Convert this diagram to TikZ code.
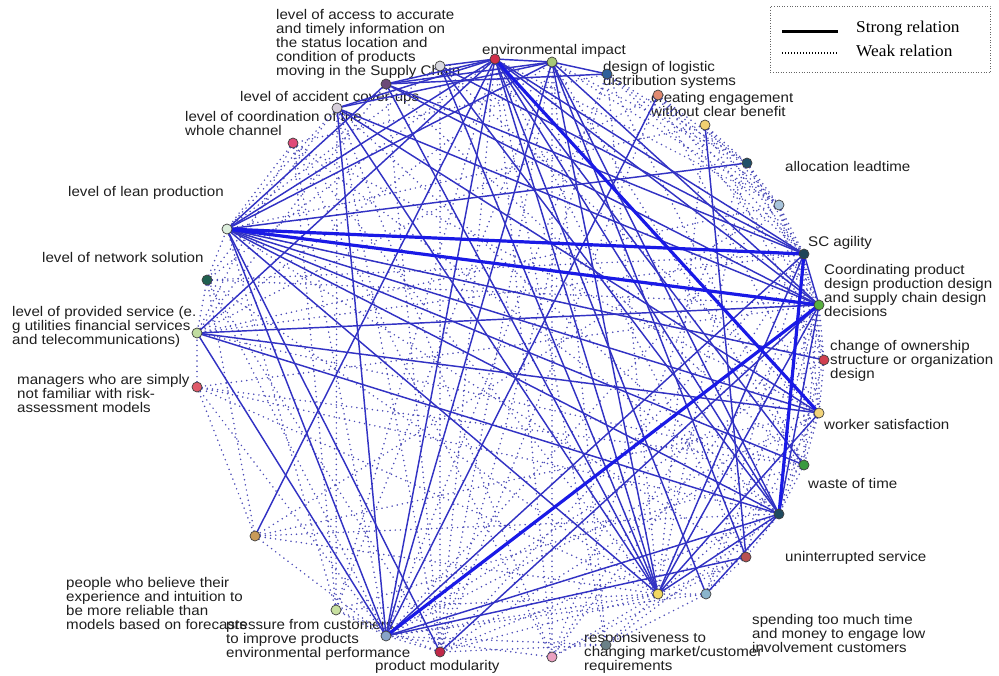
\documentclass[tikz,border=0pt]{standalone}
\usepackage{fontspec}
\newfontfamily\lblfont{Liberation Sans}[FakeStretch=1.08]
\newfontfamily\legfont{Liberation Serif}[FakeStretch=1.05]
\definecolor{edgeblue}{HTML}{3232C4}
\definecolor{strongblue}{HTML}{1A1AE6}
\definecolor{dotblue}{HTML}{4A4AB8}
\tikzset{
  lbl/.style={anchor=north west, inner sep=0pt, align=left,
    font=\lblfont\fontsize{14}{13.8}\selectfont, text=black!88},
  vtx/.style={circle, draw=black!75, line width=0.7pt, minimum size=10pt, inner sep=0pt},
  weak/.style={draw=dotblue, line width=1.7pt, line cap=round, dash pattern=on 0pt off 5.2pt},
  thin/.style={draw=edgeblue, line width=1.45pt},
  strong/.style={draw=strongblue, line width=3.2pt}
}
\begin{document}
\begin{tikzpicture}[x=1pt,y=-1pt]
\useasboundingbox (0,0) rectangle (999,675);
\fill[white] (0,0) rectangle (999,675);

% ---- labels (drawn first, lines pass over them)
\node[lbl] at (276,9.5) {level of access to accurate\\and timely information on\\the status location and\\condition of products\\moving in the Supply Chain};
\node[lbl] at (240,91.5) {level of accident cover-ups};
\node[lbl] at (185,111.5) {level of coordination of the\\whole channel};
\node[lbl] at (482,44.5) {environmental impact};
\node[lbl] at (603,61.5) {design of logistic\\distribution systems};
\node[lbl] at (651,92.5) {creating engagement\\without clear benefit};
\node[lbl] at (785,161.5) {allocation leadtime};
\node[lbl] at (808,236.5) {SC agility};
\node[lbl] at (824,264.5) {Coordinating product\\design production design\\and supply chain design\\decisions};
\node[lbl] at (830,340.5) {change of ownership\\structure or organization\\design};
\node[lbl] at (824,419.5) {worker satisfaction};
\node[lbl] at (808,478.5) {waste of time};
\node[lbl] at (785,551.5) {uninterrupted service};
\node[lbl] at (752,614.5) {spending too much time\\and money to engage low\\involvement customers};
\node[lbl] at (584,632.5) {responsiveness to\\changing market/customer\\requirements};
\node[lbl] at (375,660.5) {product modularity};
\node[lbl] at (226,619.5) {pressure from customers\\to improve products\\environmental performance};
\node[lbl] at (66,577.5) {people who believe their\\experience and intuition to\\be more reliable than\\models based on forecasts};
\node[lbl] at (17,374.5) {managers who are simply\\not familiar with risk-\\assessment models};
\node[lbl] at (12,306.5) {level of provided service (e.\\g utilities financial services\\and telecommunications)};
\node[lbl] at (42,252.5) {level of network solution};
\node[lbl] at (68,186.5) {level of lean production};

% ---- vertex positions
\coordinate (acc) at (386,84);
\coordinate (sup) at (440,66);
\coordinate (cov) at (337,108);
\coordinate (crd) at (293,143);
\coordinate (env) at (495,59);
\coordinate (gr1) at (552,62);
\coordinate (dls) at (607,74);
\coordinate (ceb) at (658,95);
\coordinate (yl1) at (705,125);
\coordinate (alc) at (747,163);
\coordinate (lb1) at (779,205);
\coordinate (sca) at (804,254);
\coordinate (cpd) at (819,305);
\coordinate (chg) at (824,360);
\coordinate (wsa) at (819,413);
\coordinate (wot) at (804,465);
\coordinate (dk2) at (779,514);
\coordinate (uns) at (746,557);
\coordinate (lb2) at (706,594);
\coordinate (grs) at (606,645);
\coordinate (rsp) at (658,594);
\coordinate (pk1) at (552,657);
\coordinate (pmd) at (440,652);
\coordinate (prs) at (386,636);
\coordinate (lg2) at (336,610);
\coordinate (tan) at (255,536);
\coordinate (mgr) at (197,387);
\coordinate (pro) at (197,333);
\coordinate (net) at (207,280);
\coordinate (lea) at (227,229);

% ---- weak relations
\foreach \a/\b in {mgr/pro, mgr/tan, mgr/rsp, mgr/wot, mgr/dk2, tan/prs, tan/rsp, tan/wsa, tan/dk2, tan/net,
  net/lea, net/pro, net/sca, net/cpd, net/rsp, net/env, net/prs,
  crd/lea, crd/rsp, crd/wsa, crd/pro, crd/prs, crd/dk2, crd/lg2,
  cov/lea, cov/net, cov/dk2, cov/pmd, acc/pro, acc/pmd, acc/wot,
  sup/lea, sup/pmd, sup/wsa, env/pk1, env/grs, env/pmd, env/lg2, env/uns, env/lb1,
  gr1/alc, gr1/lb1, gr1/pmd, gr1/grs, gr1/lg2, gr1/wot, gr1/pro, gr1/pk1,
  dls/alc, dls/sca, dls/prs, dls/pmd, dls/rsp, dls/crd, dls/lb1, dls/wot,
  ceb/alc, ceb/lb1, ceb/sca, ceb/cpd, ceb/wsa, ceb/pro, ceb/pmd,
  yl1/alc, yl1/sca, yl1/lb1, yl1/chg, yl1/rsp, yl1/lea,
  alc/lb1, alc/sca, alc/cpd, alc/rsp, alc/pk1,
  lb1/sca, lb1/cpd, lb1/wsa, lb1/pro, lb1/prs, lb1/tan, lb1/chg,
  sca/chg, sca/wsa, sca/wot, sca/pro, sca/pmd, sca/lb2, sca/pk1,
  cpd/chg, cpd/wsa, cpd/wot, cpd/lb2, cpd/uns, cpd/pk1, cpd/mgr,
  chg/wsa, chg/dk2, chg/prs, chg/lea,
  wsa/wot, wsa/dk2, wsa/prs, wsa/lb2, wsa/pmd,
  wot/dk2, wot/rsp, wot/lg2, wot/pro,
  dk2/uns, dk2/grs, dk2/pmd, uns/lb2, uns/rsp, uns/pk1, uns/lea,
  lb2/rsp, lb2/grs, lb2/prs, grs/prs, grs/pmd, grs/rsp,
  rsp/pk1, rsp/pmd, rsp/prs, rsp/lg2, pk1/prs, pk1/cov, pk1/crd,
  pmd/prs, pmd/lg2, pmd/net, prs/lg2, prs/mgr, lg2/lea, lg2/cov}
  \draw[weak] (\a) -- (\b);

% ---- thin solid relations
\foreach \a/\b in {env/lea, env/pro, env/tan, env/prs, env/rsp, env/dk2, env/wot, env/sca, env/cpd,
  env/acc, env/sup, env/gr1, env/cov, env/lb2,
  gr1/cov, gr1/acc, gr1/dls, gr1/rsp, gr1/dk2, gr1/cpd, gr1/prs, gr1/lea, gr1/uns,
  acc/cpd, acc/sca, acc/rsp, acc/dls, acc/lea, sup/sca, sup/rsp, sup/dk2,
  cov/cpd, cov/wsa, cov/rsp, cov/prs,
  lea/alc, lea/wsa, lea/wot, lea/dk2, lea/rsp, lea/prs, lea/pmd, lea/chg,
  pro/cpd, pro/wsa, pro/prs, pro/dk2,
  ceb/prs, yl1/uns, prs/uns,
  sca/prs, sca/rsp, sca/cpd, cpd/dk2, cpd/rsp, cpd/pmd,
  dk2/rsp, dk2/prs, dk2/lb2, rsp/wsa}
  \draw[thin] (\a) -- (\b);

% ---- strong relations
\foreach \a/\b in {lea/sca, lea/cpd, env/wsa, prs/cpd, sca/dk2}
  \draw[strong] (\a) -- (\b);

% ---- vertex fill colours
\foreach \v/\c in {acc/6B4A78, sup/D8D8E0, cov/D8D0DC, crd/E04A78, env/D0304A, gr1/A8C878,
  dls/2F5F9A, ceb/E08A70, yl1/F2D070, alc/1F4F6A, lb1/A8C4DC, sca/1F4458, cpd/58B040,
  chg/D04050, wsa/F2D47A, wot/3A9A40, dk2/1F4A60, uns/B85050, lb2/8AB4CC, grs/6A8088,
  rsp/F2D860, pk1/EAA0C0, pmd/C02848, prs/88A4C8, lg2/C8E0A0, tan/C89A58, mgr/E05A6A,
  pro/C0DCA0, net/1F6050, lea/DCEEDC}
  {\definecolor{vc\v}{HTML}{\c}\node[vtx, fill=vc\v] (n-\v) at (\v) {};}

% ---- legend
\node[draw=black!60, dotted, line width=0.6pt, minimum width=220pt, minimum height=66pt,
  anchor=north west, inner sep=0pt] (legend) at (770,6) {};
\coordinate (ls1) at (782,31);
\coordinate (le1) at (838,31);
\coordinate (ls2) at (782,53);
\coordinate (le2) at (838,53);
\draw[black, line width=3pt] (ls1) -- (le1);
\draw[black, line width=1.4pt, dash pattern=on 1.2pt off 1.8pt] (ls2) -- (le2);
\node[anchor=west, inner sep=0pt, font=\legfont\fontsize{16.5}{18}\selectfont] (lgs) at (856,29) {Strong relation};
\node[anchor=west, inner sep=0pt, font=\legfont\fontsize{16.5}{18}\selectfont] (lgw) at (856,51) {Weak relation};
\end{tikzpicture}
\end{document}
